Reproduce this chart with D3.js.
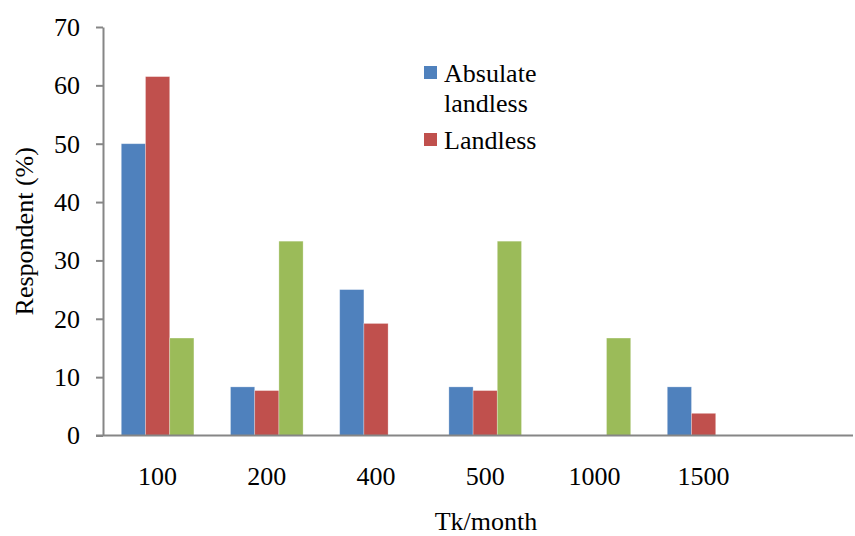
<!DOCTYPE html>
<html>
<head>
<meta charset="utf-8">
<script src="https://cdn.jsdelivr.net/npm/d3@7"></script>
<style>
  body { margin: 0; background: #fff; }
  text { font-family: 'Liberation Serif', 'Times New Roman', serif; fill: #000; }
</style>
</head>
<body>
<svg width="855" height="536"></svg>
<script>
// categories on the x axis (last slot is empty in the original)
const categories = ['100', '200', '400', '500', '1000', '1500', ''];
const absulateLandless = [50, 8.33, 25, 8.33, 0, 8.33, 0];
const landless = [61.5, 7.7, 19.2, 7.7, 0, 3.8, 0];
const thirdGroup = [16.7, 33.3, 0, 33.3, 16.7, 0, 0];
const yTicks = [0, 10, 20, 30, 40, 50, 60, 70];
const legendNames = [['Absulate', 'landless'], ['Landless']];
const colors = ['#4f81bd', '#c0504d', '#9bbb59'];

const series = [absulateLandless, landless, thirdGroup];

const svg = d3.select('svg');
const plotLeft = 103, plotTop = 27, plotBottom = 435.5, axisEnd = 853;
const fontSize = '26px';

const x = d3.scaleBand()
  .domain(categories)
  .range([plotLeft, plotLeft + 109.2 * categories.length])
  .paddingInner(0.335)
  .paddingOuter(0.1675);

const xSub = d3.scaleBand()
  .domain(d3.range(series.length))
  .range([0, x.bandwidth()]);

const y = d3.scaleLinear().domain([0, 70]).range([plotBottom, plotTop]);

// bars
series.forEach(function (vals, s) {
  svg.append('g')
    .selectAll('rect')
    .data(vals.map((v, i) => ({ cat: categories[i], v: v })).filter(d => d.v > 0))
    .join('rect')
    .attr('x', d => x(d.cat) + xSub(s))
    .attr('y', d => y(d.v))
    .attr('width', xSub.bandwidth())
    .attr('height', d => y(0) - y(d.v))
    .attr('fill', colors[s])
    .attr('stroke', '#ffffff')
    .attr('stroke-opacity', 0.35)
    .attr('stroke-width', 0.8);
});

// y axis
const yAxis = svg.append('g')
  .attr('transform', 'translate(' + plotLeft + ',0)')
  .call(d3.axisLeft(y).tickValues(yTicks).tickSize(7).tickPadding(16).tickSizeOuter(0));
yAxis.select('.domain').attr('stroke', '#868686').attr('stroke-width', 2);
yAxis.selectAll('.tick line').attr('stroke', '#868686').attr('stroke-width', 2);
yAxis.selectAll('.tick text')
  .style('font-family', "'Liberation Serif', 'Times New Roman', serif")
  .style('font-size', fontSize)
  .attr('fill', '#000');

// x axis baseline
svg.append('line')
  .attr('x1', plotLeft - 7).attr('x2', axisEnd)
  .attr('y1', y(0)).attr('y2', y(0))
  .attr('stroke', '#868686').attr('stroke-width', 2);

// x labels
svg.append('g')
  .selectAll('text')
  .data(categories)
  .join('text')
  .attr('x', d => x(d) + x.bandwidth() / 2)
  .attr('y', 485)
  .attr('text-anchor', 'middle')
  .style('font-size', fontSize)
  .text(d => d);

// axis titles
svg.append('text')
  .attr('x', 486)
  .attr('y', 530)
  .attr('text-anchor', 'middle')
  .style('font-size', fontSize)
  .text('Tk/month');

svg.append('text')
  .attr('transform', 'translate(33,' + (plotTop + plotBottom) / 2 + ') rotate(-90)')
  .attr('text-anchor', 'middle')
  .style('font-size', fontSize)
  .text('Respondent (%)');

// legend
const legendY = [66, 133];
legendNames.forEach(function (lines, i) {
  svg.append('rect')
    .attr('x', 424).attr('y', legendY[i])
    .attr('width', 13).attr('height', 13)
    .attr('fill', colors[i]);
  lines.forEach(function (t, j) {
    svg.append('text')
      .attr('x', 444)
      .attr('y', legendY[i] + 16 + j * 30)
      .style('font-size', fontSize)
      .text(t);
  });
});
</script>
</body>
</html>
